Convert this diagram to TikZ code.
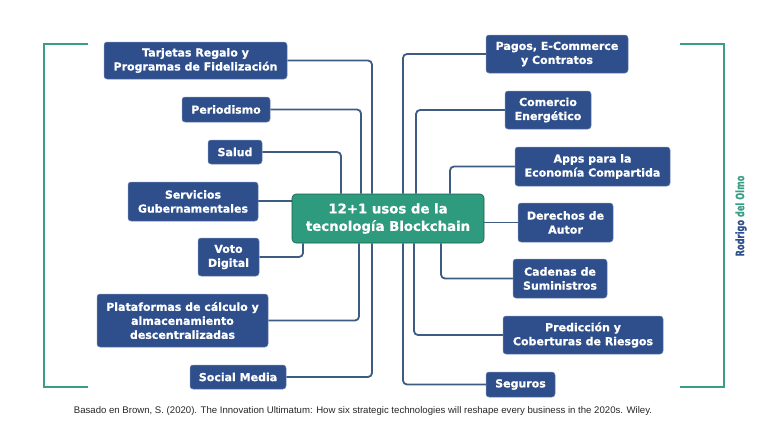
\documentclass[tikz,border=0pt]{standalone}
\usepackage{fontspec}
\usetikzlibrary{backgrounds}
\setmainfont{DejaVu Sans}
\newfontfamily\boxfont[FakeBold=0.7]{DejaVu Sans Bold}
\newfontfamily\footfont{Liberation Sans}
\newfontfamily\condfont[FakeStretch=0.72,FakeBold=0.8]{DejaVu Sans Bold}
\definecolor{boxblue}{HTML}{2F4F8C}
\definecolor{cengreen}{HTML}{2E9A7E}
\definecolor{connc}{HTML}{3E5B82}
\definecolor{brgreen}{HTML}{3A9E86}
\begin{document}
\begin{tikzpicture}[x=1pt,y=-1pt,
  ubox/.style={fill=boxblue, draw=boxblue!70!white, line width=0.5pt, rounded corners=3pt, text=white,
    font=\boxfont\fontsize{11}{14}\selectfont, align=center, inner sep=0pt},
  cbox/.style={fill=cengreen, draw=cengreen!60!black, line width=0.6pt, rounded corners=4pt, text=white,
    font=\boxfont\fontsize{13.3}{17.5}\selectfont, align=center, inner sep=0pt},
  conn/.style={draw=connc, line width=1.8pt, rounded corners=4pt},
  bracket/.style={draw=brgreen, line width=2.8pt}]
\useasboundingbox (0,0) rectangle (768,432);

% brackets
\draw[bracket] (88,44) -- (44,44) -- (44,387) -- (88,387);
\draw[bracket] (680,44) -- (724,44) -- (724,387) -- (680,387);

% central
\node[cbox, minimum width=192pt, minimum height=49pt] (cen) at (388,218.5) {12+1 usos de la\\tecnología Blockchain};

% left nodes
\node[ubox, minimum width=183pt, minimum height=37pt] (tar) at (195.5,60.5) {Tarjetas Regalo y\\Programas de Fidelización};
\node[ubox, minimum width=88pt, minimum height=25pt] (per) at (226,109.5) {Periodismo};
\node[ubox, minimum width=54pt, minimum height=24pt] (sal) at (235,152) {Salud};
\node[ubox, minimum width=130pt, minimum height=39pt] (ser) at (193,201.5) {Servicios\\Gubernamentales};
\node[ubox, minimum width=61pt, minimum height=38pt] (vot) at (228.5,257) {Voto\\Digital};
\node[ubox, minimum width=171pt, minimum height=53pt] (pla) at (182.5,320.5) {Plataformas de cálculo y\\almacenamiento\\descentralizadas};
\node[ubox, minimum width=96pt, minimum height=24pt] (soc) at (238,377) {Social Media};

% right nodes
\node[ubox, minimum width=142pt, minimum height=38pt] (pag) at (557,54) {Pagos, E-Commerce\\y Contratos};
\node[ubox, minimum width=86pt, minimum height=38pt] (com) at (548,110) {Comercio\\Energético};
\node[ubox, minimum width=155pt, minimum height=39pt] (app) at (592.5,166.5) {Apps para la\\Economía Compartida};
\node[ubox, minimum width=95pt, minimum height=39pt] (der) at (565.5,222.5) {Derechos de\\Autor};
\node[ubox, minimum width=94pt, minimum height=39pt] (cad) at (560,278.5) {Cadenas de\\Suministros};
\node[ubox, minimum width=160pt, minimum height=38pt] (pre) at (583,335) {Predicción y\\Coberturas de Riesgos};
\node[ubox, minimum width=69pt, minimum height=25pt] (seg) at (520.5,384.5) {Seguros};

\begin{scope}[on background layer]
% connectors left
\draw[conn] (tar.east) -| ([xshift=-16pt]cen.north);
\draw[conn] (per.east) -| ([xshift=-27pt]cen.north);
\draw[conn] (sal.east) -| ([xshift=-47pt]cen.north);
\draw[conn] ([yshift=0.5pt]ser.east) -- ([yshift=0.5pt]ser.east -| cen.west);
\draw[conn] (vot.east) -| ([xshift=-85pt]cen.south);
\draw[conn] (pla.east) -| ([xshift=-29pt]cen.south);
\draw[conn] (soc.east) -| ([xshift=-16pt]cen.south);
% connectors right
\draw[conn] (pag.west) -| ([xshift=15pt]cen.north);
\draw[conn] (com.west) -| ([xshift=28pt]cen.north);
\draw[conn] (app.west) -| ([xshift=62pt]cen.north);
\draw[conn] (der.west -| cen.east) -- (der.west);
\draw[conn] (cad.west) -| ([xshift=53pt]cen.south);
\draw[conn] (pre.west) -| ([xshift=26pt]cen.south);
\draw[conn] (seg.west) -| ([xshift=15pt]cen.south);
\end{scope}

% author
\node[rotate=90, font=\condfont\fontsize{11.5}{13}\selectfont, inner sep=0pt] (aut) at (741,216) {\textcolor{boxblue}{Rodrigo} \textcolor{brgreen}{del Olmo}};

% footer
\node[font=\footfont\fontsize{9.6}{11}\selectfont, text=black!85, inner sep=0pt] (foot) at (363,411) {Basado en Brown, S. (2020). The Innovation Ultimatum: How six strategic technologies will reshape every business in the 2020s. Wiley.};
\end{tikzpicture}
\end{document}
